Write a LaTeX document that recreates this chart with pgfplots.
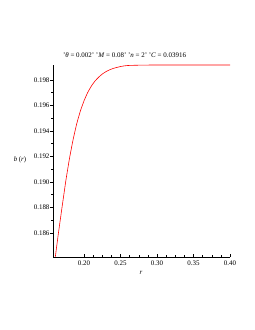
\documentclass[border=0pt]{standalone}
\usepackage{fontspec}
\setmainfont{Liberation Serif}
\usepackage{pgfplots}
\pgfplotsset{compat=1.18}
\begin{document}
\begin{tikzpicture}[x=1bp,y=1bp]
\useasboundingbox (0,0) rectangle (255,330);
\begin{axis}[
  at={(53bp,73bp)}, anchor=south west,
  scale only axis, width=177bp, height=192bp,
  xmin=0.1575, xmax=0.40,
  ymin=0.1841, ymax=0.19916,
  axis lines*=left,
  axis line style={-, line width=0.6pt},
  tick align=inside,
  tick style={black, line width=0.5pt},
  major tick length=3pt, minor tick length=1.8pt,
  every major y tick/.style={xshift=-3pt},
  every minor y tick/.style={xshift=-1.8pt},
  yticklabel style={xshift=0pt},
  xtick={0.20,0.25,0.30,0.35,0.40},
  ytick={0.186,0.188,0.190,0.192,0.194,0.196,0.198},
  minor x tick num=3, minor y tick num=1,
  xticklabel style={/pgf/number format/.cd, fixed, fixed zerofill, precision=2},
  yticklabel style={/pgf/number format/.cd, fixed, fixed zerofill, precision=3},
  scaled ticks=false,
  /pgf/number format/assume math mode=true,
  ticklabel style={font=\fontsize{7}{8}\selectfont},
  xlabel={\textit{r}},
  ylabel={\textit{b}$\,$(\textit{r})},
  xlabel style={at={(axis description cs:0.497,-0.085)}, anchor=center, font=\fontsize{7}{8}\selectfont},
  ylabel style={at={(axis description cs:-0.186,0.505)}, anchor=center, rotate=-90, font=\fontsize{7}{8}\selectfont},
  every axis title shift=0pt,
  title={'\textit{θ} = 0.002' '\textit{M} = 0.08' '\textit{n} = 2' '\textit{C} = 0.03916},
  title style={at={(axis description cs:0.404,1.052)}, anchor=center, font=\fontsize{7}{8}\selectfont},
  clip=false,
]
\addplot[red, line width=0.6pt, smooth, tension=0.3] coordinates {
(0.1607,0.18412)
(0.1650,0.18600)
(0.1700,0.18805)
(0.1750,0.19005)
(0.1800,0.19180)
(0.1850,0.19330)
(0.1900,0.19455)
(0.1950,0.19555)
(0.2000,0.19635)
(0.2050,0.19700)
(0.2100,0.19750)
(0.2150,0.19790)
(0.2200,0.19820)
(0.2250,0.19845)
(0.2300,0.19864)
(0.2350,0.19878)
(0.2400,0.19889)
(0.2450,0.19897)
(0.2500,0.19904)
(0.2550,0.19909)
(0.2600,0.19912)
(0.2700,0.19914)
(0.2800,0.19915)
(0.3000,0.19916)
(0.4000,0.19916)
};
\end{axis}
\end{tikzpicture}
\end{document}
